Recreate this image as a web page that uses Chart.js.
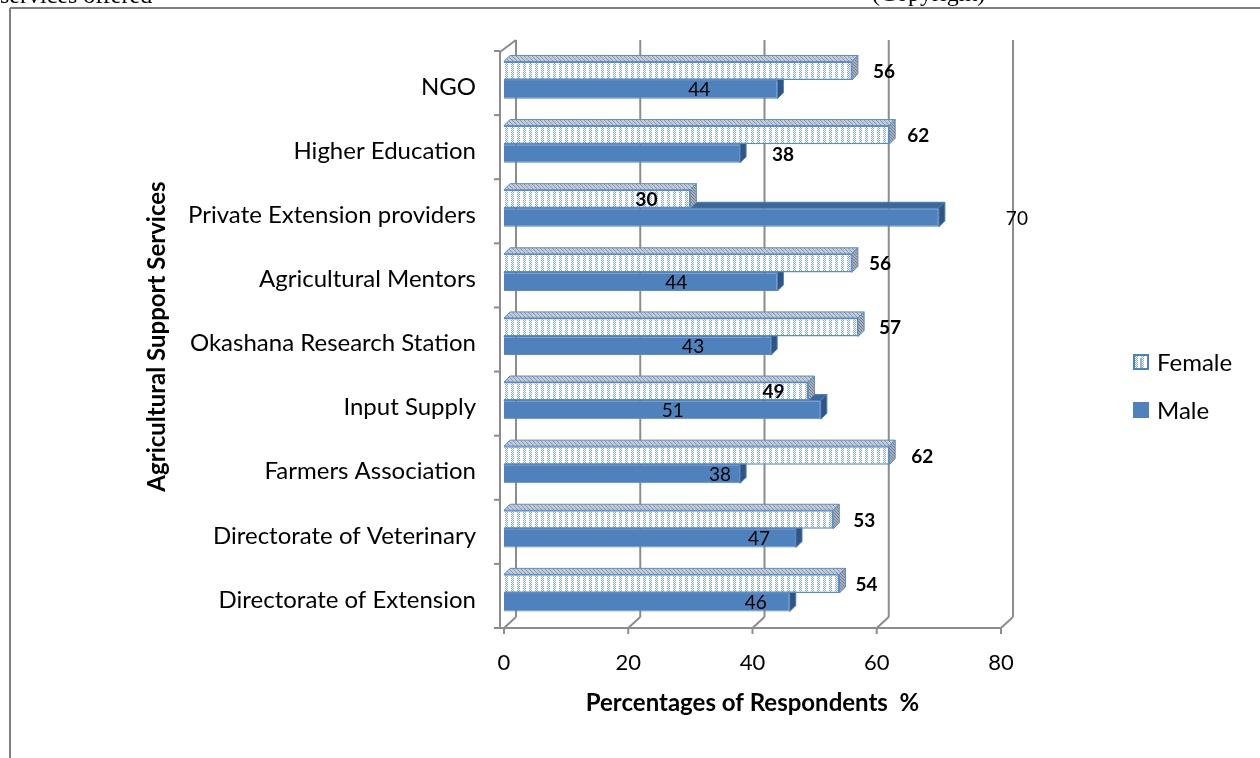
<!DOCTYPE html>
<html>
<head>
<meta charset="utf-8">
<script src="https://cdn.jsdelivr.net/npm/chart.js@4.4.0/dist/chart.umd.min.js"></script>
<style>
  html, body { margin: 0; padding: 0; background: #fff; }
  #wrap { width: 1260px; height: 758px; }
</style>
</head>
<body>
<div id="wrap"><canvas id="servicesChart" width="1260" height="758"></canvas></div>
<script>
// data, top to bottom as in the figure
const services = ['NGO', 'Higher Education', 'Private Extension providers', 'Agricultural Mentors',
  'Okashana Research Station', 'Input Supply', 'Farmers Association', 'Directorate of Veterinary',
  'Directorate of Extension'];
const female = [56, 62, 30, 56, 57, 49, 62, 53, 54];
const male = [44, 38, 70, 44, 43, 51, 38, 47, 46];
const xTicks = [0, 20, 40, 60, 80];

// label nudges (px from the front end of each bar), the way Excel left them
const femaleNudge = [32, 29, -44, 28, 32, -35, 33, 31, 27];
const maleNudge = [-78, 43, 78, -101, -78, -148, -20, -37, -34];
const maleBold = [false, true, false, false, false, false, false, false, false];

const FONT = 'Lato, "Noto Sans", sans-serif';
const MALE = '#4F81BD';
const DEPTH = 6;

function makeTile(bg, fg, w, h, pts) {
  const tile = document.createElement('canvas');
  tile.width = w; tile.height = h;
  const t = tile.getContext('2d');
  t.fillStyle = bg; t.fillRect(0, 0, w, h);
  t.fillStyle = fg;
  pts.forEach(p => t.fillRect(p[0], p[1], 1, 1));
  return t.createPattern(tile, 'repeat');
}
const xPts = [[1, 0], [3, 0], [2, 1], [1, 2], [3, 2], [2, 3]];
const femaleFill = makeTile('#ffffff', '#86a9d8', 6, 4, xPts);
const femaleTop = makeTile('#c4ccd8', '#8a94a4', 4, 4, [[0, 0], [2, 2], [1, 1], [3, 3]]);
const femaleSide = makeTile('#a9aeb6', '#7b818a', 3, 3, [[0, 0], [1, 1], [2, 2]]);

function line(ctx, x1, y1, x2, y2) {
  ctx.beginPath(); ctx.moveTo(x1, y1); ctx.lineTo(x2, y2); ctx.stroke();
}

function drawFaces(chart, di, topFill, sideFill, stroke) {
  const ctx = chart.ctx;
  ctx.save();
  ctx.lineWidth = 1;
  ctx.strokeStyle = stroke;
  chart.getDatasetMeta(di).data.forEach(bar => {
    const { x, y, base, height } = bar.getProps(['x', 'y', 'base', 'height'], true);
    const top = y - height / 2, bot = y + height / 2;
    ctx.beginPath();
    ctx.moveTo(base, top); ctx.lineTo(base + DEPTH, top - DEPTH);
    ctx.lineTo(x + DEPTH, top - DEPTH); ctx.lineTo(x, top); ctx.closePath();
    ctx.fillStyle = topFill; ctx.fill(); ctx.stroke();
    ctx.beginPath();
    ctx.moveTo(x, top); ctx.lineTo(x + DEPTH, top - DEPTH);
    ctx.lineTo(x + DEPTH, bot - DEPTH); ctx.lineTo(x, bot); ctx.closePath();
    ctx.fillStyle = sideFill; ctx.fill(); ctx.stroke();
  });
  ctx.restore();
}

const frame3d = {
  id: 'frame3d',
  beforeDraw(chart) {
    const ctx = chart.ctx;
    ctx.save();
    // page frame + clipped text above it
    ctx.strokeStyle = '#7f7f7f'; ctx.lineWidth = 2;
    line(ctx, 10, 8, 1260, 8);
    line(ctx, 10, 8, 10, 758);
    ctx.fillStyle = '#000';
    ctx.font = '24px "Liberation Serif", serif';
    ctx.textBaseline = 'alphabetic';
    ctx.fillText('services offered', 0, 3);
    ctx.fillText('(Copyright)', 872, 1);
    ctx.restore();
  },
  beforeDatasetsDraw(chart) {
    const { ctx, chartArea } = chart;
    const xs = chart.scales.x;
    ctx.save();
    ctx.strokeStyle = '#8c8c8c'; ctx.lineWidth = 2;
    const floorY = chartArea.bottom + 3;
    const x0 = xs.getPixelForValue(0);
    xTicks.forEach(v => {
      const px = xs.getPixelForValue(v);
      line(ctx, px, floorY, px + 12, floorY - 11);
      line(ctx, px + 12, floorY - 11, px + 12, 40);
      line(ctx, px, floorY, px, floorY + 6);
    });
    line(ctx, x0 - 4, floorY, xs.getPixelForValue(80), floorY);
    line(ctx, x0 - 4, floorY, x0 - 4, 52);
    line(ctx, x0 - 4, 52, x0 + 12, 40);
    const band = chartArea.height / services.length;
    for (let i = 0; i <= services.length; i++) {
      const py = floorY - i * band;
      line(ctx, x0 - 10, py, x0 - 4, py);
    }
    ctx.restore();
    drawFaces(chart, 1, '#3d6797', '#2f5585', '#4a7ab3');
  },
  afterDatasetsDraw(chart) {
    drawFaces(chart, 0, femaleTop, femaleSide, '#5b8cc8');
  },
  afterDraw(chart) {
    const ctx = chart.ctx;
    ctx.save();
    ctx.textAlign = 'center'; ctx.textBaseline = 'middle';
    ctx.fillStyle = '#000';
    [0, 1].forEach(di => {
      const vals = di === 0 ? female : male;
      chart.getDatasetMeta(di).data.forEach((bar, i) => {
        const { x, y } = bar.getProps(['x', 'y'], true);
        const bold = di === 0 || maleBold[i];
        ctx.font = (bold ? 'bold ' : '') + '19px ' + FONT;
        const nudge = di === 0 ? femaleNudge[i] : maleNudge[i];
        ctx.fillText(String(vals[i]), x + nudge, y + 1);
      });
    });
    // legend
    ctx.textAlign = 'left';
    ctx.font = '24px ' + FONT;
    ctx.fillStyle = femaleFill;
    ctx.fillRect(1134, 355, 14, 14);
    ctx.strokeStyle = MALE; ctx.lineWidth = 2;
    ctx.strokeRect(1134, 355, 14, 14);
    ctx.fillStyle = '#9ab6dc';
    ctx.fillRect(1140, 358, 2, 10);
    ctx.fillStyle = MALE;
    ctx.fillRect(1133, 402, 16, 16);
    ctx.fillStyle = '#000';
    ctx.fillText('Female', 1157, 363);
    ctx.fillText('Male', 1157, 411);
    ctx.restore();
  }
};

const ctxServices = document.getElementById('servicesChart');
const servicesChart = new Chart(ctxServices, {
  type: 'bar',
  data: {
    labels: services,
    datasets: [{
      label: 'Female',
      data: female,
      backgroundColor: femaleFill,
      borderColor: '#5b8cc8',
      borderWidth: 1.5,
      categoryPercentage: 0.58,
      barPercentage: 1
    },
    {
      label: 'Male',
      data: male,
      backgroundColor: MALE,
      borderColor: '#5a89c2',
      borderWidth: 1,
      categoryPercentage: 0.58,
      barPercentage: 1
    }]
  },
  options: {
    indexAxis: 'y',
    responsive: false,
    animation: false,
    layout: { padding: { left: 140, right: 259, top: 48, bottom: 0 } },
    plugins: { legend: { display: false }, tooltip: { enabled: false } },
    scales: {
      x: {
        min: 0, max: 80,
        afterBuildTicks: s => { s.ticks = xTicks.map(v => ({ value: v })); },
        afterFit: s => { s.height = 133; },
        grid: { display: false, drawTicks: false },
        border: { display: false },
        ticks: { color: '#000', padding: 25, font: { family: FONT, size: 22 } },
        title: {
          display: true, text: 'Percentages of Respondents  %', color: '#000',
          font: { family: FONT, size: 24, weight: 'bold' }, padding: { top: 0, bottom: 40 }
        }
      },
      y: {
        afterFit: s => { s.width = 364; },
        grid: { display: false, drawTicks: false },
        border: { display: false },
        ticks: { color: '#000', padding: 28, labelOffset: 7, font: { family: FONT, size: 24 } },
        title: {
          display: true, text: 'Agricultural Support Services', color: '#000',
          font: { family: FONT, size: 24, weight: 'bold' }, padding: { top: 3, bottom: 0 }
        }
      }
    }
  },
  plugins: [frame3d]
});
</script>
</body>
</html>
